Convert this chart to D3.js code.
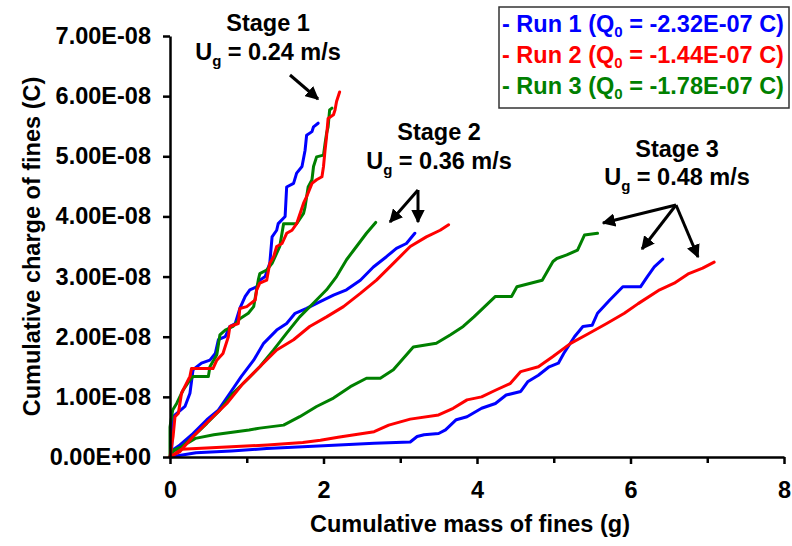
<!DOCTYPE html>
<html>
<head>
<meta charset="utf-8">
<script src="https://cdn.jsdelivr.net/npm/d3@7"></script>
<style>
  html, body { margin: 0; padding: 0; background: #fff; }
  svg { display: block; font-family: "Liberation Sans", Arial, sans-serif; font-weight: bold; }
</style>
</head>
<body>
<svg id="chart" width="792" height="546"></svg>
<script>
// ---- Data (x: cumulative mass of fines, g; y: cumulative charge, units of 1e-8 C) ----
const xMajorTicks = [0, 2, 4, 6, 8];
const xMinorTicks = [1, 3, 5, 7];
const yTicks = [0, 1e-8, 2e-8, 3e-8, 4e-8, 5e-8, 6e-8, 7e-8];
const yTickLabels = ["0.00E+00", "1.00E-08", "2.00E-08", "3.00E-08", "4.00E-08", "5.00E-08", "6.00E-08", "7.00E-08"];

const run1Stage1 = [[0,0],[0.02,0.1],[0.04,0.67],[0.195,0.84],[0.26,1.06],[0.30,1.45],[0.41,1.56],[0.52,1.61],[0.59,1.72],[0.63,1.95],[0.72,2.00],[0.78,2.17],[0.85,2.22],[0.91,2.47],[0.98,2.67],[1.04,2.78],[1.13,2.83],[1.17,2.94],[1.24,3.00],[1.30,3.22],[1.33,3.66],[1.39,3.77],[1.41,3.88],[1.50,4.00],[1.52,4.49],[1.61,4.55],[1.65,4.72],[1.72,4.83],[1.76,5.10],[1.78,5.35],[1.85,5.41],[1.87,5.49],[1.93,5.55]];
const run1Stage2 = [[0,0],[0.04,0.12],[0.13,0.2],[0.30,0.39],[0.48,0.62],[0.63,0.78],[0.78,1.06],[0.93,1.34],[1.09,1.61],[1.22,1.89],[1.39,2.11],[1.52,2.22],[1.63,2.39],[1.78,2.47],[1.95,2.58],[2.13,2.69],[2.30,2.78],[2.48,2.94],[2.65,3.16],[2.82,3.33],[2.95,3.47],[3.08,3.55],[3.19,3.72]];
const run1Stage3 = [[0,0],[0.34,0.07],[0.80,0.10],[1.26,0.14],[1.73,0.17],[2.20,0.20],[2.66,0.23],[3.13,0.25],[3.22,0.34],[3.31,0.37],[3.50,0.39],[3.59,0.45],[3.73,0.62],[3.87,0.67],[4.06,0.81],[4.24,0.89],[4.38,1.03],[4.57,1.09],[4.66,1.25],[4.80,1.36],[4.94,1.50],[5.06,1.56],[5.13,1.72],[5.27,2.00],[5.38,2.17],[5.50,2.19],[5.57,2.39],[5.73,2.61],[5.90,2.83],[6.13,2.83],[6.22,3.00],[6.31,3.16],[6.42,3.29]];

const run2Stage1 = [[0,0],[0.04,0.34],[0.065,0.67],[0.11,0.73],[0.15,1.06],[0.26,1.34],[0.28,1.47],[0.56,1.47],[0.61,1.61],[0.69,1.72],[0.76,2.00],[0.78,2.17],[0.89,2.22],[0.91,2.47],[1.00,2.50],[1.11,2.61],[1.13,2.78],[1.17,2.89],[1.26,2.94],[1.30,3.22],[1.35,3.33],[1.39,3.50],[1.46,3.55],[1.52,3.72],[1.59,3.77],[1.65,3.88],[1.74,4.22],[1.78,4.33],[1.85,4.55],[1.91,4.61],[1.98,4.66],[2.00,4.83],[2.02,5.10],[2.04,5.33],[2.06,5.63],[2.13,5.69],[2.15,5.77],[2.17,5.91],[2.21,6.07]];
const run2Stage2 = [[0,0],[0.04,0.03],[0.13,0.09],[0.30,0.34],[0.52,0.62],[0.74,0.89],[0.95,1.22],[1.17,1.50],[1.39,1.78],[1.61,1.95],[1.82,2.17],[2.04,2.33],[2.26,2.50],[2.48,2.72],[2.69,2.94],[2.91,3.22],[3.13,3.50],[3.34,3.66],[3.52,3.77],[3.63,3.86]];
const run2Stage3 = [[0,0],[0.15,0.13],[0.80,0.17],[1.27,0.20],[1.73,0.24],[1.96,0.28],[2.19,0.33],[2.66,0.42],[2.85,0.53],[3.13,0.63],[3.50,0.70],[3.69,0.81],[3.87,0.95],[4.06,1.00],[4.24,1.11],[4.43,1.22],[4.57,1.42],[4.80,1.50],[4.99,1.67],[5.22,1.89],[5.45,2.05],[5.69,2.22],[5.92,2.39],[6.10,2.55],[6.38,2.78],[6.57,2.89],[6.76,3.05],[6.94,3.14],[7.09,3.24]];

const run3Stage1 = [[0,0],[0.0,0.5],[0.035,0.78],[0.087,0.89],[0.17,1.11],[0.26,1.28],[0.30,1.34],[0.50,1.34],[0.52,1.50],[0.61,1.70],[0.65,2.03],[0.72,2.11],[0.82,2.17],[0.91,2.30],[1.02,2.39],[1.09,2.50],[1.15,2.94],[1.17,3.05],[1.26,3.11],[1.33,3.22],[1.43,3.50],[1.48,3.88],[1.65,3.88],[1.74,4.05],[1.76,4.16],[1.80,4.49],[1.85,4.61],[1.87,4.83],[1.91,4.99],[2.00,5.02],[2.02,5.21],[2.04,5.38],[2.06,5.49],[2.08,5.77],[2.11,5.80]];
const run3Stage2 = [[0,0],[0.04,0.1],[0.13,0.14],[0.30,0.34],[0.48,0.56],[0.65,0.78],[0.82,1.06],[1.00,1.28],[1.17,1.50],[1.35,1.78],[1.52,2.06],[1.69,2.33],[1.87,2.56],[2.04,2.78],[2.17,3.00],[2.30,3.28],[2.43,3.50],[2.56,3.72],[2.68,3.90]];
const run3Stage3 = [[0,0],[0.05,0.12],[0.15,0.17],[0.33,0.31],[0.57,0.37],[1.03,0.45],[1.17,0.48],[1.48,0.53],[1.69,0.67],[1.91,0.84],[2.13,0.98],[2.35,1.17],[2.56,1.31],[2.74,1.31],[2.91,1.45],[3.17,1.83],[3.47,1.89],[3.65,2.03],[3.82,2.17],[3.96,2.33],[4.10,2.50],[4.24,2.67],[4.45,2.67],[4.52,2.83],[4.85,2.94],[4.99,3.25],[5.04,3.30],[5.17,3.36],[5.31,3.44],[5.40,3.69],[5.57,3.72]];

const runNames = ["Run 1", "Run 2", "Run 3"];
const runQ0 = ["-2.32E-07", "-1.44E-07", "-1.78E-07"];
const runColors = ["#0000FF", "#FF0000", "#008000"];
const stageLabels = ["Stage 1", "Stage 2", "Stage 3"];
const stageUg = ["0.24", "0.36", "0.48"];

// ---- Layout ----
const svg = d3.select("#chart");
const plot = { left: 170, right: 784, top: 36, bottom: 457 };
const x = d3.scaleLinear().domain([0, 8]).range([plot.left, plot.right]);
const y = d3.scaleLinear().domain([0, 7e-8]).range([plot.bottom, plot.top]);
const unit = 1e-8;
const FS = "23.5px";

// ---- Series ----
const seriesByRun = [
  [run1Stage1, run1Stage2, run1Stage3],
  [run2Stage1, run2Stage2, run2Stage3],
  [run3Stage1, run3Stage2, run3Stage3]
];
const drawOrder = [0, 2, 1];
const line = d3.line().x(d => x(d[0])).y(d => y(d[1] * unit));
const gLines = svg.append("g");
drawOrder.forEach(r => {
  seriesByRun[r].forEach(s => {
    gLines.append("path").attr("d", line(s))
      .attr("fill", "none").attr("stroke", runColors[r])
      .attr("stroke-width", 3).attr("stroke-linejoin", "round").attr("stroke-linecap", "round");
  });
});

// ---- Axes ----
const fmtY = d => yTickLabels[yTicks.indexOf(d)];
const yAxis = d3.axisLeft(y).tickValues(yTicks).tickFormat(fmtY).tickSize(7).tickSizeOuter(0).tickPadding(12);
const gy = svg.append("g").attr("transform", `translate(${plot.left},0)`).call(yAxis);
gy.select(".domain").attr("stroke", "#000").attr("stroke-width", 2.5);
gy.selectAll(".tick line").attr("stroke", "#000").attr("stroke-width", 2.5);
gy.selectAll(".tick text").attr("fill", "#000").style("font-size", FS).style("font-weight", "bold")
  .style("font-family", "'Liberation Sans', Arial, sans-serif");

const xAxis = d3.axisBottom(x).tickValues(xMajorTicks).tickFormat(d3.format("d")).tickSize(7).tickSizeOuter(0).tickPadding(17);
const gx = svg.append("g").attr("transform", `translate(0,${plot.bottom})`).call(xAxis);
gx.select(".domain").attr("stroke", "#000").attr("stroke-width", 2.5);
gx.selectAll(".tick line").attr("stroke", "#000").attr("stroke-width", 2.5);
gx.selectAll(".tick text").attr("fill", "#000").style("font-size", FS).style("font-weight", "bold")
  .style("font-family", "'Liberation Sans', Arial, sans-serif");
const xAxisMinor = d3.axisBottom(x).tickValues(xMinorTicks).tickFormat("").tickSize(6).tickSizeOuter(0);
const gxm = svg.append("g").attr("transform", `translate(0,${plot.bottom})`).call(xAxisMinor);
gxm.select(".domain").remove();
gxm.selectAll(".tick line").attr("stroke", "#000").attr("stroke-width", 2.5);

// Axis titles
svg.append("text").attr("x", 470).attr("y", 532)
  .attr("text-anchor", "middle").style("font-size", FS).text("Cumulative mass of fines (g)");
svg.append("text").attr("transform", `translate(40,${(plot.top + plot.bottom) / 2}) rotate(-90)`)
  .attr("text-anchor", "middle").style("font-size", FS).text("Cumulative charge of fines (C)");

// ---- Legend ----
const lg = svg.append("g");
lg.append("rect").attr("x", 499).attr("y", 7).attr("width", 290).attr("height", 101)
  .attr("fill", "#fff").attr("stroke", "#333").attr("stroke-width", 1.5);
const legendBaselines = [32, 63, 94];
runNames.forEach((n, i) => {
  const t = lg.append("text").attr("x", 502).attr("y", legendBaselines[i])
    .attr("fill", runColors[i]).style("font-size", FS);
  t.append("tspan").text(`- ${n} (Q`);
  t.append("tspan").attr("dy", 5).style("font-size", "15px").text("0");
  t.append("tspan").attr("dy", -5).text(` = ${runQ0[i]} C)`);
});

// ---- Stage annotations ----
const stageText = [
  { cx: 268, y1: 31, y2: 60 },
  { cx: 439, y1: 140, y2: 169 },
  { cx: 677, y1: 157, y2: 185 }
];
stageText.forEach((p, i) => {
  svg.append("text").attr("x", p.cx).attr("y", p.y1).attr("text-anchor", "middle")
    .style("font-size", FS).text(stageLabels[i]);
  const t = svg.append("text").attr("x", p.cx).attr("y", p.y2).attr("text-anchor", "middle")
    .style("font-size", FS);
  t.append("tspan").text("U");
  t.append("tspan").attr("dy", 6).style("font-size", "15px").text("g");
  t.append("tspan").attr("dy", -6).text(` = ${stageUg[i]} m/s`);
});

// Arrows
const defs = svg.append("defs");
defs.append("marker").attr("id", "ah").attr("viewBox", "0 0 10 10").attr("refX", 9).attr("refY", 5)
  .attr("markerWidth", 4.5).attr("markerHeight", 4.5).attr("orient", "auto").attr("markerUnits", "strokeWidth")
  .append("path").attr("d", "M0,0 L10,5 L0,10 z").attr("fill", "#000");
const arrows = [
  [290, 75, 318, 99],
  [418, 190, 390, 222],
  [418, 190, 418, 222],
  [676, 205, 603, 223],
  [676, 205, 642, 249],
  [676, 205, 698, 257]
];
arrows.forEach(a => {
  svg.append("line").attr("x1", a[0]).attr("y1", a[1]).attr("x2", a[2]).attr("y2", a[3])
    .attr("stroke", "#000").attr("stroke-width", 3).attr("marker-end", "url(#ah)");
});
</script>
</body>
</html>
